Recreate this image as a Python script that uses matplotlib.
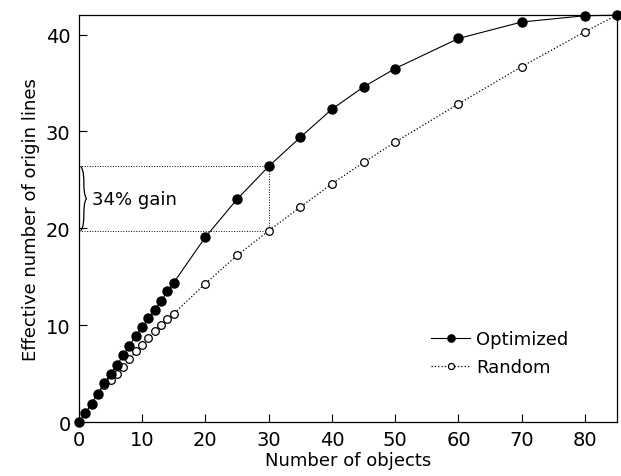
import matplotlib.pyplot as plt
from matplotlib.path import Path
from matplotlib.patches import PathPatch

# Data
n_objects = [0, 1, 2, 3, 4, 5, 6, 7, 8, 9, 10, 11, 12, 13, 14, 15,
             20, 25, 30, 35, 40, 45, 50, 60, 70, 80, 85]
optimized = [0, 0.9, 1.9, 2.95, 4.0, 5.0, 5.85, 6.9, 7.9, 8.9, 9.8, 10.7, 11.6, 12.5, 13.5, 14.4,
             19.1, 23.0, 26.4, 29.4, 32.3, 34.6, 36.5, 39.6, 41.3, 41.95, 42.0]
random_sel = [0, 0.9, 1.9, 2.9, 3.8, 4.3, 5.0, 5.7, 6.5, 7.3, 8.0, 8.7, 9.4, 10.0, 10.6, 11.2,
              14.3, 17.2, 19.75, 22.2, 24.6, 26.8, 28.9, 32.85, 36.7, 40.3, 42.0]

x_ticks = [0, 10, 20, 30, 40, 50, 60, 70, 80]
y_ticks = [0, 10, 20, 30, 40]

fig, ax = plt.subplots(figsize=(6.21, 4.77), dpi=100)
fig.subplots_adjust(left=0.127, right=0.993, bottom=0.113, top=0.966)

ax.plot(n_objects, random_sel, ':', color='black', lw=0.9, marker='o', ms=5.5,
        mfc='white', mec='black', mew=0.9, label='Random', clip_on=False, zorder=3)
ax.plot(n_objects, optimized, '-', color='black', lw=0.8, marker='o', ms=6.5,
        mfc='black', mec='black', label='Optimized', clip_on=False, zorder=4)

# gain annotation at 30 objects
i30 = n_objects.index(30)
y_hi, y_lo = optimized[i30], random_sel[i30]
ax.plot([0, 30], [y_hi, y_hi], ':', color='black', lw=0.7)
ax.plot([0, 30], [y_lo, y_lo], ':', color='black', lw=0.7)
ax.plot([30, 30], [y_lo, y_hi], ':', color='black', lw=0.7)

ym = (y_hi + y_lo) / 2
x0, w = 0.3, 0.9
verts = [(x0, y_hi), (x0 + w, y_hi - 0.8), (x0 + 0.1, ym + 0.8), (x0 + w, ym),
         (x0 + 0.1, ym - 0.8), (x0 + w, y_lo + 0.8), (x0, y_lo)]
codes = [Path.MOVETO, Path.CURVE4, Path.CURVE4, Path.CURVE4,
         Path.CURVE4, Path.CURVE4, Path.CURVE4]
ax.add_patch(PathPatch(Path(verts, codes), fill=False, lw=0.9, color='black'))
ax.text(2.0, ym, '34% gain', fontsize=13, va='center', ha='left')

ax.set_xlim(0, 85)
ax.set_ylim(0, 42)
ax.set_xticks(x_ticks)
ax.set_yticks(y_ticks)
ax.tick_params(direction='in', length=6, width=0.8, labelsize=14, pad=6)
ax.set_xlabel('Number of objects', fontsize=13, labelpad=1)
ax.set_ylabel('Effective number of origin lines', fontsize=13, labelpad=4)
for s in ax.spines.values():
    s.set_linewidth(0.9)

handles, labels = ax.get_legend_handles_labels()
ax.legend(handles[::-1], labels[::-1], loc='lower right', bbox_to_anchor=(0.94, 0.073),
          frameon=False, fontsize=13, handlelength=2.2, handletextpad=0.3,
          labelspacing=0.55, markerscale=0.8)

plt.savefig('out.png', dpi=100)
